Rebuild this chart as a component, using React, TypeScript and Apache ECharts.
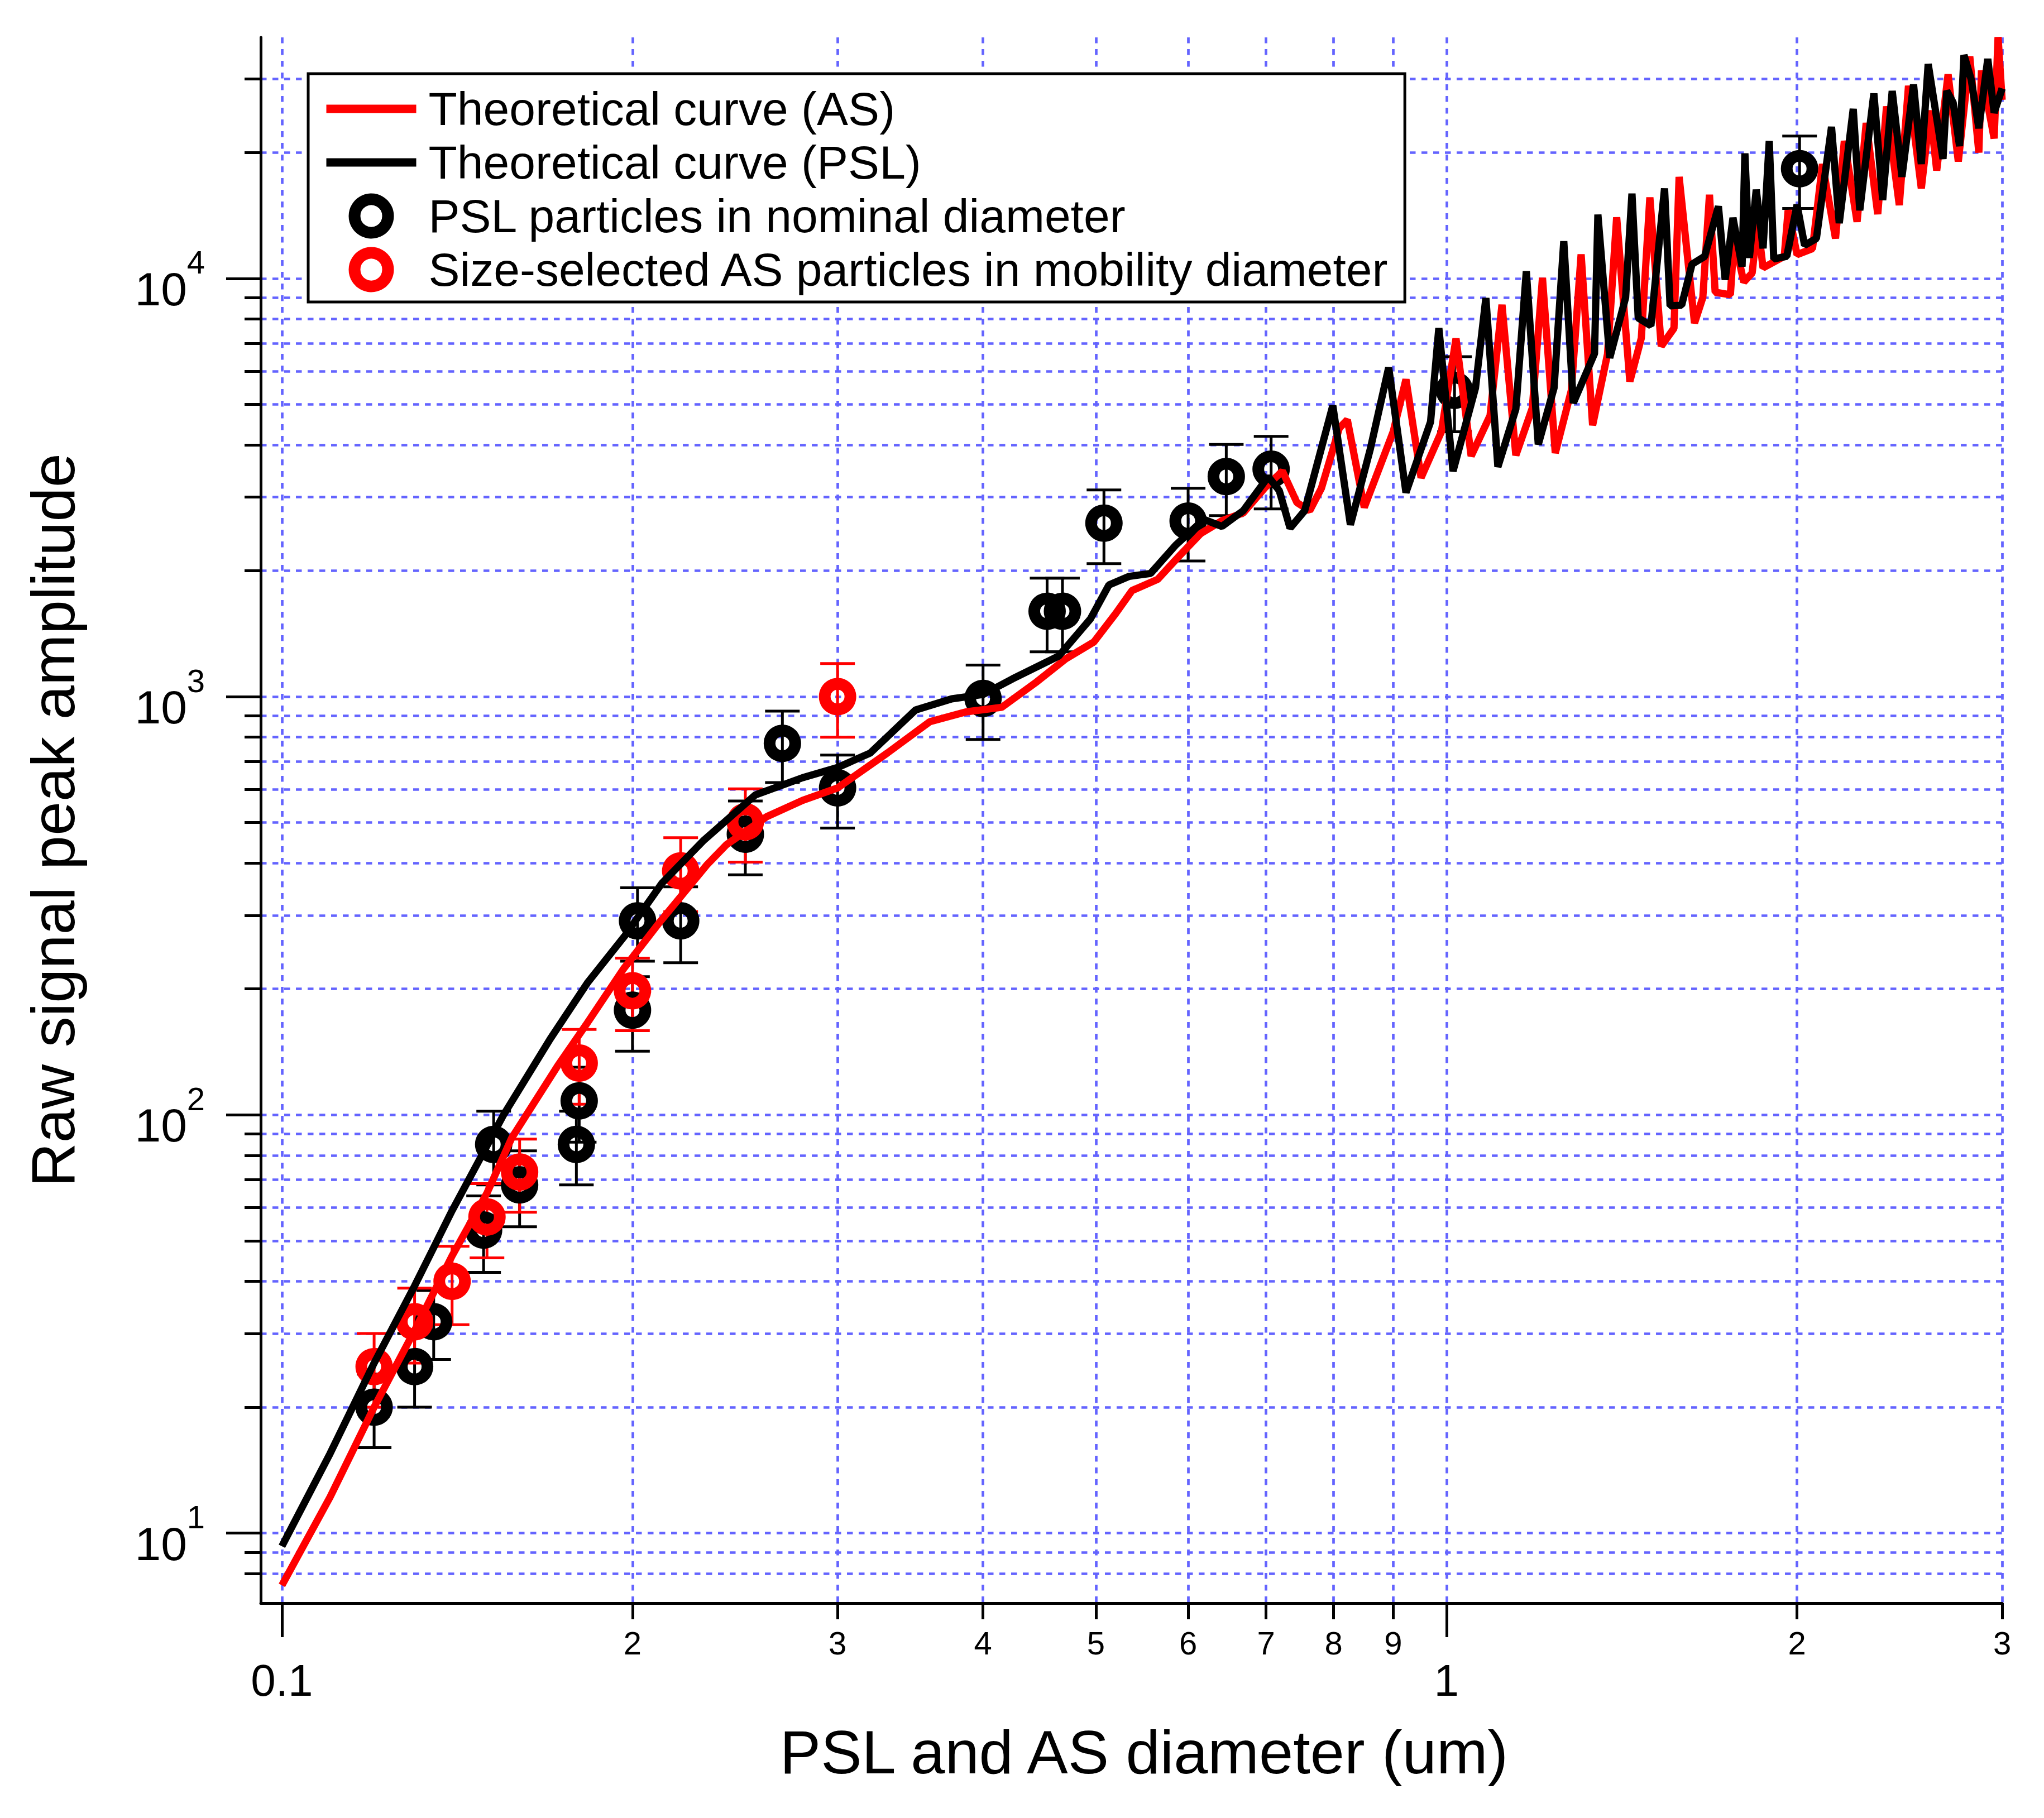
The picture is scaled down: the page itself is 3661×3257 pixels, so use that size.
import React, { useEffect, useRef } from "react";
import * as echarts from "echarts";

const FONT = "'Liberation Sans', Arial, sans-serif";
const GRID_BLUE = "#6464ff";

// theoretical curve for ammonium sulfate, [diameter um, raw amplitude]
const asCurve: [number, number][] = [
  [0.1, 7.5], [0.11, 12.2], [0.12, 20], [0.13, 30.5], [0.14, 46], [0.15, 65],
  [0.1575, 88], [0.1725, 131], [0.1824, 164], [0.1964, 223], [0.2113, 290],
  [0.2315, 395], [0.2407, 442], [0.261, 517], [0.28, 565], [0.3, 605], [0.331, 733],
  [0.36, 871], [0.387, 920], [0.415, 943], [0.445, 1086], [0.471, 1231],
  [0.498, 1351], [0.52, 1581], [0.537, 1793], [0.565, 1908], [0.589, 2163],
  [0.615, 2454], [0.6415, 2634], [0.669, 2750], [0.698, 3153], [0.723, 3463],
  [0.744, 2911], [0.763, 2783], [0.781, 3153], [0.809, 4385], [0.822, 4591],
  [0.85, 2835], [0.9, 4300], [0.923, 5735], [0.951, 3338], [0.99, 4300],
  [1.019, 7180], [1.05, 3762], [1.09, 4700], [1.116, 8650], [1.147, 3776],
  [1.185, 4900], [1.209, 10030], [1.24, 3824], [1.28, 5400], [1.305, 11420],
  [1.335, 4456], [1.375, 6600], [1.4, 14000], [1.437, 5670], [1.47, 7200],
  [1.495, 15620], [1.529, 6887], [1.568, 7600], [1.584, 17490], [1.633, 7820],
  [1.66, 9000], [1.682, 15850], [1.701, 9270], [1.753, 9140], [1.766, 12460],
  [1.8, 9800], [1.83, 10300], [1.85, 13560], [1.87, 10600], [1.95, 11290],
  [1.965, 14550], [2.0, 11400], [2.062, 11780], [2.103, 18770], [2.158, 12460],
  [2.196, 21310], [2.252, 13660], [2.293, 23530], [2.346, 14250], [2.387, 25780],
  [2.448, 14970], [2.493, 28870], [2.557, 16420], [2.602, 25200], [2.636, 18120],
  [2.696, 30760], [2.751, 19040], [2.814, 33960], [2.865, 20000], [2.88, 31420],
  [2.953, 21610], [2.976, 37760], [3.0, 26720],
];

// theoretical curve for PSL
const pslCurve: [number, number][] = [
  [0.1, 9.3], [0.11, 15.5], [0.12, 25.5], [0.13, 39], [0.14, 59], [0.155, 100],
  [0.17, 152], [0.183, 207], [0.197, 268], [0.212, 358], [0.23, 452], [0.255, 582],
  [0.28, 640], [0.3, 677], [0.32, 733], [0.35, 929], [0.376, 988], [0.4, 1012],
  [0.424, 1103], [0.4645, 1250], [0.4945, 1533], [0.513, 1849], [0.534, 1939],
  [0.557, 1970], [0.5855, 2304], [0.619, 2654], [0.6415, 2553], [0.669, 2783],
  [0.703, 3357], [0.7185, 3109], [0.734, 2529], [0.7555, 2783], [0.7987, 4966],
  [0.827, 2576], [0.86, 3900], [0.892, 6124], [0.923, 3076], [0.969, 4540],
  [0.985, 7604], [1.013, 3460], [1.059, 5470], [1.081, 8973], [1.107, 3545],
  [1.147, 4870], [1.171, 10400], [1.199, 4010], [1.237, 5470], [1.261, 12270],
  [1.285, 5036], [1.34, 6610], [1.349, 14210], [1.381, 6457], [1.425, 9000],
  [1.443, 15950], [1.461, 8044], [1.498, 7708], [1.539, 16410], [1.556, 8600],
  [1.592, 8630], [1.625, 10820], [1.666, 11290], [1.712, 14870], [1.735, 9930],
  [1.762, 13960], [1.794, 10670], [1.804, 19910], [1.82, 11200], [1.845, 16300],
  [1.87, 11800], [1.893, 21310], [1.91, 11130], [1.96, 11300], [2.0, 15000],
  [2.03, 12000], [2.078, 12460], [2.141, 23030], [2.174, 13560], [2.235, 25430],
  [2.264, 14550], [2.328, 27670], [2.369, 15400], [2.414, 28070], [2.461, 17500],
  [2.518, 29080], [2.557, 18770], [2.592, 32550], [2.642, 23200], [2.669, 19310],
  [2.689, 28070], [2.723, 26340], [2.758, 20720], [2.782, 34200], [2.822, 29900],
  [2.865, 22870], [2.916, 33480], [2.953, 24890], [3.0, 28470],
];

// PSL particles (nominal diameter)
const pslDiameter = [0.12, 0.13, 0.135, 0.149, 0.152, 0.16, 0.179, 0.18, 0.2, 0.202, 0.22, 0.25, 0.269, 0.3, 0.4, 0.454, 0.468, 0.508, 0.6, 0.647, 0.707, 1.016, 2.01];
const pslAmplitude = [20, 25, 32, 53, 85, 68, 85, 108, 178, 291, 291, 469, 773, 605, 990, 1600, 1600, 2600, 2630, 3360, 3500, 5400, 18300];
const pslError = [4, 5, 6, 11, 17, 14, 17, 22, 36, 58, 60, 94, 150, 120, 200, 320, 320, 520, 520, 650, 690, 1100, 3600];

// size-selected AS particles (mobility diameter)
const asDiameter = [0.12, 0.13, 0.14, 0.15, 0.16, 0.18, 0.2, 0.22, 0.25, 0.3];
const asAmplitude = [25, 32, 40, 57, 73, 133, 198, 383, 502, 1000];
const asError = [5, 6.5, 8.5, 11.5, 14.5, 27, 39, 77, 100, 200];

// axes
const xTicks = [0.1, 0.2, 0.3, 0.4, 0.5, 0.6, 0.7, 0.8, 0.9, 1, 2, 3];
const xMajorTicks = [0.1, 1];
const xMajorText = ["0.1", "1"];
const xMinorTicks = [0.2, 0.3, 0.4, 0.5, 0.6, 0.7, 0.8, 0.9, 2, 3];
const xMinorText = ["2", "3", "4", "5", "6", "7", "8", "9", "2", "3"];
const yTicks = [
  8, 9, 10, 20, 30, 40, 50, 60, 70, 80, 90, 100, 200, 300, 400, 500, 600, 700, 800, 900,
  1000, 2000, 3000, 4000, 5000, 6000, 7000, 8000, 9000, 10000, 20000, 30000,
];
const yMajorTicks = [10, 100, 1000, 10000];
const yMajorBase = ["10", "10", "10", "10"];
const yMajorExponent = ["1", "2", "3", "4"];
const X_MIN = 0.0959;
const X_MAX = 3;
const Y_MIN = 6.8;
const Y_MAX = 37700;

const lg = (v: number) => Math.log10(v);
const pickText = (ticks: number[], texts: string[], v: number) => {
  const i = ticks.findIndex((t) => Math.abs(lg(t) - v) < 1e-6);
  return i >= 0 ? texts[i] : "";
};

const gridLine = { show: true, lineStyle: { color: GRID_BLUE, width: 4.7, type: [10.5, 10.5] } };
const blackLine = { color: "#000", width: 5 };

function errorSeries(diam: number[], amp: number[], err: number[], color: string) {
  return {
    type: "custom",
    silent: true,
    data: diam.map((d, i) => [lg(d), lg(amp[i] - err[i]), lg(amp[i] + err[i])]),
    renderItem: (_params: any, api: any) => {
      const top = api.coord([api.value(0), api.value(2)]);
      const bot = api.coord([api.value(0), api.value(1)]);
      const hw = 31;
      const style = { stroke: color, lineWidth: 5 };
      return {
        type: "group",
        children: [
          { type: "line", shape: { x1: top[0], y1: top[1], x2: bot[0], y2: bot[1] }, style },
          { type: "line", shape: { x1: top[0] - hw, y1: top[1], x2: top[0] + hw, y2: top[1] }, style },
          { type: "line", shape: { x1: bot[0] - hw, y1: bot[1], x2: bot[0] + hw, y2: bot[1] }, style },
        ],
      };
    },
  };
}

// overlay y axis that only carries the decade labels (no line, no ticks)
function yLabelAxis(margin: number, fontSize: number, lineHeight: number, verticalAlign: string, texts: string[]) {
  return {
    type: "value",
    position: "left",
    offset: 0,
    min: lg(Y_MIN),
    max: lg(Y_MAX),
    axisLine: { show: false, onZero: false },
    axisTick: { show: false },
    axisLabel: {
      customValues: yMajorTicks.map(lg),
      formatter: (v: number) => pickText(yMajorTicks, texts, v),
      margin,
      fontSize,
      lineHeight,
      verticalAlign,
      color: "#000",
      fontFamily: FONT,
    },
    splitLine: { show: false },
  };
}

export default function App() {
  const chartRef = useRef<HTMLDivElement | null>(null);

  useEffect(() => {
    if (!chartRef.current) return;
    const chart = echarts.init(chartRef.current, null, { renderer: "svg" });

    chart.setOption({
      animation: false,
      backgroundColor: "#fff",
      grid: { left: 467, right: 75, top: 67, bottom: 385, containLabel: false, outerBoundsMode: "none" },
      legend: {
        left: 552,
        top: 132,
        orient: "vertical",
        align: "left",
        selectedMode: false,
        padding: [21, 26, 16, 25],
        itemGap: 12,
        itemWidth: 161,
        itemHeight: 60,
        borderColor: "#000",
        borderWidth: 5,
        borderRadius: 0,
        backgroundColor: "#fff",
        textStyle: { fontSize: 84, color: "#000", fontFamily: FONT, padding: [0, 0, 0, 17] },
        data: [
          { name: "Theoretical curve (AS)", itemStyle: { opacity: 0 }, lineStyle: { width: 15, color: "#ff0000" } },
          { name: "Theoretical curve (PSL)", itemStyle: { opacity: 0 }, lineStyle: { width: 15, color: "#000" } },
          {
            name: "PSL particles in nominal diameter",
            icon: "circle",
            itemStyle: { color: "rgba(0,0,0,0)", borderColor: "#000", borderWidth: 21, opacity: 1 },
          },
          {
            name: "Size-selected AS particles in mobility diameter",
            icon: "circle",
            itemStyle: { color: "rgba(0,0,0,0)", borderColor: "#ff0000", borderWidth: 21, opacity: 1 },
          },
        ],
      },
      xAxis: [
        {
          type: "value",
          position: "bottom",
          min: lg(X_MIN),
          max: lg(X_MAX),
          axisLine: { show: true, onZero: false, lineStyle: blackLine },
          axisTick: { show: true, length: 29, customValues: xTicks.map(lg), lineStyle: blackLine },
          axisLabel: {
            customValues: xMinorTicks.map(lg),
            formatter: (v: number) => pickText(xMinorTicks, xMinorText, v),
            margin: 42,
            fontSize: 58,
            color: "#000",
            fontFamily: FONT,
          },
          splitLine: gridLine,
          name: "PSL and AS diameter (um)",
          nameLocation: "middle",
          nameGap: 211,
          nameMoveOverlap: false,
          nameTextStyle: { fontSize: 110, color: "#000", fontFamily: FONT, padding: [0, 0, 0, 45] },
        },
        {
          type: "value",
          position: "bottom",
          min: lg(X_MIN),
          max: lg(X_MAX),
          axisLine: { show: false, onZero: false },
          axisTick: { show: true, length: 61, customValues: xMajorTicks.map(lg), lineStyle: blackLine },
          axisLabel: {
            customValues: xMajorTicks.map(lg),
            formatter: (v: number) => pickText(xMajorTicks, xMajorText, v),
            margin: 98,
            fontSize: 80,
            color: "#000",
            fontFamily: FONT,
          },
          splitLine: { show: false },
        },
      ],
      yAxis: [
        {
          type: "value",
          position: "left",
          min: lg(Y_MIN),
          max: lg(Y_MAX),
          axisLine: { show: true, onZero: false, lineStyle: blackLine },
          axisTick: { show: true, length: 29, customValues: yTicks.map(lg), lineStyle: blackLine },
          axisLabel: { show: false },
          splitLine: gridLine,
          name: "Raw signal peak amplitude",
          nameLocation: "middle",
          nameGap: 318,
          nameMoveOverlap: false,
          nameTextStyle: { fontSize: 110, color: "#000", fontFamily: FONT },
        },
        {
          type: "value",
          position: "left",
          offset: 0,
          min: lg(Y_MIN),
          max: lg(Y_MAX),
          axisLine: { show: false, onZero: false },
          axisTick: { show: true, length: 62, customValues: yMajorTicks.map(lg), lineStyle: blackLine },
          axisLabel: { show: false },
          splitLine: { show: false },
        },
        // "10" of the decade labels, sitting a little below the tick
        yLabelAxis(132, 84, 38, "top", yMajorBase),
        // raised exponent
        yLabelAxis(100, 58, 58, "bottom", yMajorExponent),
      ],
      series: [
        {
          name: "Theoretical curve (AS)",
          type: "line",
          symbol: "none",
          silent: true,
          data: asCurve.map(([x, y]) => [lg(x), lg(y)]),
          lineStyle: { color: "#ff0000", width: 13 },
          itemStyle: { color: "#ff0000" },
        },
        {
          name: "Theoretical curve (PSL)",
          type: "line",
          symbol: "none",
          silent: true,
          data: pslCurve.map(([x, y]) => [lg(x), lg(y)]),
          lineStyle: { color: "#000", width: 13 },
          itemStyle: { color: "#000" },
        },
        errorSeries(pslDiameter, pslAmplitude, pslError, "#000"),
        {
          name: "PSL particles in nominal diameter",
          type: "scatter",
          symbol: "circle",
          symbolSize: 46,
          silent: true,
          data: pslDiameter.map((d, i) => [lg(d), lg(pslAmplitude[i])]),
          itemStyle: { color: "rgba(0,0,0,0)", borderColor: "#000", borderWidth: 21, opacity: 1 },
        },
        errorSeries(asDiameter, asAmplitude, asError, "#ff0000"),
        {
          name: "Size-selected AS particles in mobility diameter",
          type: "scatter",
          symbol: "circle",
          symbolSize: 46,
          silent: true,
          data: asDiameter.map((d, i) => [lg(d), lg(asAmplitude[i])]),
          itemStyle: { color: "rgba(0,0,0,0)", borderColor: "#ff0000", borderWidth: 21, opacity: 1 },
        },
      ],
    });

    return () => chart.dispose();
  }, []);

  return (
    <div
      ref={chartRef}
      style={{ position: "absolute", left: 0, top: 0, width: 3661, height: 3257, background: "#fff" }}
    />
  );
}
